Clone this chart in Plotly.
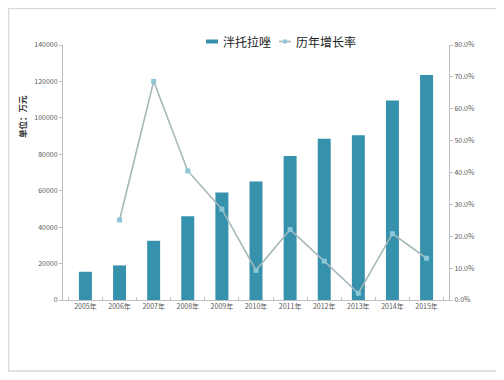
import plotly.graph_objects as go

years = ["2005年", "2006年", "2007年", "2008年", "2009年", "2010年",
         "2011年", "2012年", "2013年", "2014年", "2015年"]
sales = [15500, 19000, 32500, 46000, 59000, 65000, 79000, 88500, 90500, 109500, 123500]
growth = [None, 0.251, 0.686, 0.405, 0.285, 0.093, 0.221, 0.122, 0.021, 0.208, 0.131]

bar_name = "泮托拉唑"
line_name = "历年增长率"
y_title = "单位：万元"

OFF = 8  # default page body margin
W, H = 504 - OFF, 380 - OFF
# target plot-area in page pixels
L, R, T, B = 63, 449, 45, 300

def px(x):
    return (x - L) / (R - L)

def py(y):
    return (B - y) / (B - T)

font = "Noto Sans CJK SC, Noto Sans, sans-serif"
bar_color = "#3591AC"
line_color = "#A4B8BA"
marker_color = "#8CC7D8"

fig = go.Figure()
fig.add_trace(go.Bar(
    x=years, y=sales, name=bar_name,
    marker=dict(color=bar_color, line=dict(width=0)),
    width=0.38, yaxis="y", showlegend=False,
))
fig.add_trace(go.Scatter(
    x=years, y=growth, name=line_name, yaxis="y2",
    mode="lines+markers",
    line=dict(color=line_color, width=1.6),
    marker=dict(symbol="square", size=5, color=marker_color,
                line=dict(color=marker_color, width=0)),
    connectgaps=False, showlegend=False,
))

ly = 41.5
shapes = [
    dict(type="rect", xref="paper", yref="paper",
         x0=px(8.5), x1=px(497), y0=py(371), y1=py(8.5),
         line=dict(color="#D9D9D9", width=1.5), layer="below"),
    # legend icons
    dict(type="rect", xref="paper", yref="paper",
         x0=px(206), x1=px(218), y0=py(ly + 2), y1=py(ly - 2),
         fillcolor=bar_color, line=dict(width=0)),
    dict(type="line", xref="paper", yref="paper",
         x0=px(279), x1=px(291), y0=py(ly), y1=py(ly),
         line=dict(color=line_color, width=1.6)),
    dict(type="rect", xref="paper", yref="paper",
         x0=px(283), x1=px(287), y0=py(ly + 2), y1=py(ly - 2),
         fillcolor=marker_color, line=dict(width=0)),
]

annotations = [
    dict(text=y_title, xref="paper", yref="paper",
         x=px(22), y=py(117), xanchor="center", yanchor="middle",
         textangle=-90, showarrow=False,
         font=dict(size=8.5, color="#333333", family=font, weight="bold")),
    dict(text=bar_name, xref="paper", yref="paper",
         x=px(221), y=py(ly), xanchor="left", yanchor="middle",
         showarrow=False, font=dict(size=12, color="#222222", family=font)),
    dict(text=line_name, xref="paper", yref="paper",
         x=px(294), y=py(ly), xanchor="left", yanchor="middle",
         showarrow=False, font=dict(size=12, color="#222222", family=font)),
]

fig.update_layout(
    width=W, height=H,
    margin=dict(l=L - OFF, r=W - (R - OFF), t=T - OFF, b=H - (B - OFF)),
    paper_bgcolor="white", plot_bgcolor="white",
    font=dict(family=font, color="#595959", size=7),
    showlegend=False,
    bargap=0.62,
    xaxis=dict(
        type="category", showgrid=False, showline=True,
        linecolor="#BFBFBF", linewidth=1,
        ticks="inside", ticklen=3, tickcolor="#BFBFBF",
        tickson="boundaries",
        tickfont=dict(size=7, color="#595959"),
    ),
    yaxis=dict(
        range=[0, 140000], dtick=20000, tickformat="d",
        showgrid=False, zeroline=False, showline=True,
        linecolor="#BFBFBF", linewidth=1,
        ticks="outside", ticklen=3, tickcolor="#BFBFBF",
        tickfont=dict(size=7, color="#595959"),
    ),
    yaxis2=dict(
        overlaying="y", side="right",
        range=[0, 0.8], dtick=0.1, tickformat=".1%",
        showgrid=False, zeroline=False, showline=True,
        linecolor="#BFBFBF", linewidth=1,
        ticks="outside", ticklen=3, tickcolor="#BFBFBF",
        tickfont=dict(size=7, color="#595959"),
    ),
    shapes=shapes,
    annotations=annotations,
)

fig.write_html("out.html")
